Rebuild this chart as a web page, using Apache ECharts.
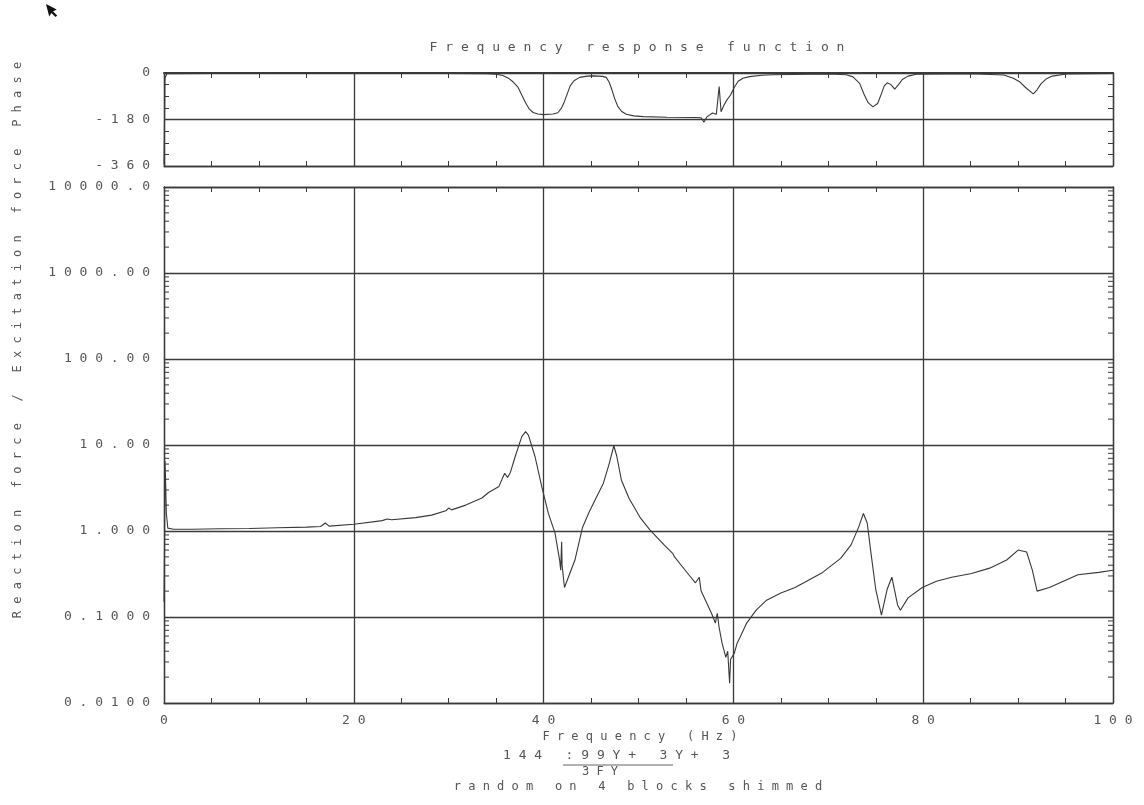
<!DOCTYPE html>
<html>
<head>
<meta charset="utf-8">
<title>Frequency response function</title>
<script src="https://cdn.jsdelivr.net/npm/echarts@6/dist/echarts.min.js"></script>
<style>
  html, body { margin: 0; padding: 0; background: #fff; }
  #frf { width: 1144px; height: 805px; }
</style>
</head>
<body>
<div id="frf"></div>
<script>
// phase curve (Hz, degrees)
const phaseFreq = [0, 0.05, 0.1, 0.3, 5, 10, 20, 30, 34, 35, 35.7, 36.3, 36.8, 37.3, 37.7, 38.1, 38.5, 38.9, 39.4, 40,
  41, 41.5, 41.9, 42.2, 42.5, 42.8, 43.2, 43.8, 44.6, 45.2, 46.2, 46.6, 46.9, 47.2, 47.5, 47.8, 48.2, 48.7, 49.5, 50.5,
  53, 56, 56.6, 56.9, 57.2, 57.8, 58.2, 58.5, 58.7, 59, 59.3, 59.7, 60.1, 60.5, 61, 61.7, 63, 64.2, 70, 71.9, 72.6,
  73.3, 73.8, 74.2, 74.7, 75.2, 75.6, 75.9, 76.2, 76.6, 77, 77.4, 77.8, 78.4, 79.3, 85, 88.5, 89.5, 90.2, 90.9, 91.6,
  92, 92.4, 93, 93.6, 95.1, 100];
const phaseDeg = [-355, -200, -20, -3, -2, -2, -1, -2, -3, -5, -10, -20, -35, -55, -85, -115, -140, -153, -159, -161,
  -159, -154, -135, -110, -80, -50, -30, -17, -12, -11, -13, -17, -35, -65, -100, -128, -148, -160, -166, -169,
  -171, -172, -173, -190, -170, -155, -160, -52, -150, -125, -105, -85, -55, -32, -20, -14, -9, -7, -4, -7, -15,
  -40, -85, -115, -131, -118, -80, -50, -38, -45, -62, -45, -25, -12, -5, -3, -8, -20, -35, -60, -81,
  -65, -42, -22, -12, -4, -2];

// magnitude curve (Hz, ratio)
const magFreq = [0, 0.05, 0.1, 0.15, 0.25, 0.4, 1, 3, 6, 9, 12, 15, 16.5, 17, 17.4, 20, 23, 23.5, 24, 26.5, 28.2, 29.7,
  30, 30.3, 31.8, 33.5, 34.2, 35.3, 35.7, 35.9, 36.2, 36.5, 37, 37.7, 38.1, 38.4, 39.1, 39.8, 40.5, 41.2, 41.7, 41.8,
  41.9, 41.95, 42.2, 43.3, 44.1, 44.8, 46.3, 46.9, 47.4, 47.7, 48.2, 49, 50.2, 51.2, 52.7, 53.6, 53.8, 54.5, 55.3,
  56, 56.4, 56.6, 56.8, 57.7, 58.1, 58.3, 58.5, 58.8, 59.2, 59.4, 59.6, 59.7, 60.1, 60.4, 60.7, 61.4, 62.4, 63.5, 65,
  66.5, 69.4, 71.3, 72.4, 73.2, 73.7, 74.1, 74.5, 75, 75.6, 76.2, 76.7, 77.3, 77.6, 78.4, 79.9, 81.4, 83, 85.1, 87,
  88.8, 90, 90.9, 91.5, 92, 93.3, 96.3, 98.5, 100];
const magValue = [0.15, 0.5, 6.5, 4.5, 1.6, 1.08, 1.05, 1.05, 1.06, 1.07, 1.09, 1.11, 1.13, 1.24, 1.14, 1.2, 1.32, 1.38,
  1.35, 1.43, 1.53, 1.72, 1.85, 1.76, 2.0, 2.42, 2.8, 3.3, 4.2, 4.7, 4.2, 4.8, 7.3, 12.5, 14.3, 13, 7.3, 3.3, 1.6, 0.95,
  0.45, 0.35, 0.75, 0.4, 0.22, 0.46, 1.1, 1.66, 3.6, 6, 9.8, 7.5, 3.9, 2.4, 1.42, 1.03, 0.69, 0.55, 0.5, 0.4, 0.31,
  0.25, 0.29, 0.2, 0.18, 0.11, 0.085, 0.11, 0.075, 0.05, 0.034, 0.04, 0.017, 0.032, 0.038, 0.05, 0.058, 0.085, 0.12,
  0.157, 0.19, 0.22, 0.33, 0.48, 0.69, 1.11, 1.6, 1.24, 0.55, 0.21, 0.105, 0.21, 0.29, 0.138, 0.12, 0.167, 0.22, 0.26,
  0.29, 0.32, 0.37, 0.46, 0.6, 0.57, 0.35, 0.2, 0.22, 0.31, 0.33, 0.35];

// tick labels
const freqLabels = ['0', '20', '40', '60', '80', '100'];
const phaseLabels = ['-360', '-180', '0'];
const magLabels = ['0.0100', '0.1000', '1.000', '10.00', '100.00', '1000.00', '10000.0'];
const minorMults = [2, 3, 4, 5, 6, 7, 8, 9];
const decades = [0.01, 0.1, 1, 10, 100, 1000];

const titleText = 'Frequency response function';
const yNameText = 'Reaction force / Excitation force Phase';
const xNameText = 'Frequency (Hz)';
const noteLine1 = '144 :99Y+ 3Y+ 3';
const noteLine2 = '3FY';
const noteLine3 = 'random on 4 blocks shimmed';

// the plotter draws text with a blank between letters
function spaced(s) { return s.split('').join(' '); }

const ink = '#3a3a3a';
const txt = '#555';
const mono = 'DejaVu Sans Mono';

let minorTicks = [];
decades.forEach(d => minorMults.forEach(m => minorTicks.push([0, d * m])));

let chart = echarts.init(document.getElementById('frf'));

function edgeX(grid, pos, labels) {
  return {
    type: 'value', gridIndex: grid, position: pos, min: 0, max: 100, interval: 20,
    axisLine: { show: true, onZero: false, lineStyle: { color: ink, width: pos === 'top' && grid === 0 ? 2 : 1.3 } },
    axisTick: { show: true, inside: true, length: 6, lineStyle: { color: ink } },
    minorTick: { show: true, splitNumber: 4, length: 5, lineStyle: { color: ink } },
    splitLine: { show: pos === 'bottom', lineStyle: { color: ink, width: 1.3 } },
    axisLabel: labels ? {
      show: true, margin: 11, color: txt, fontFamily: mono, fontSize: 13,
      formatter: v => spaced(freqLabels[Math.round(v / 20)])
    } : { show: false }
  };
}

let option = {
  backgroundColor: '#fff',
  animation: false,
  grid: [
    { left: 164, top: 73, width: 949, height: 93 },
    { left: 164, top: 187, width: 949, height: 516 }
  ],
  xAxis: [edgeX(0, 'bottom', false), edgeX(0, 'top', false), edgeX(1, 'bottom', true), edgeX(1, 'top', false)],
  yAxis: [
    {
      type: 'value', gridIndex: 0, position: 'left', min: -360, max: 0, interval: 180,
      axisLine: { show: true, onZero: false, lineStyle: { color: ink, width: 1.3 } },
      axisTick: { show: true, inside: true, length: 6, lineStyle: { color: ink } },
      minorTick: { show: true, splitNumber: 4, length: 5, lineStyle: { color: ink } },
      splitLine: { show: true, lineStyle: { color: ink, width: 1.3 } },
      axisLabel: {
        margin: 14, color: txt, fontFamily: mono, fontSize: 13,
        formatter: v => spaced(phaseLabels[Math.round((v + 360) / 180)])
      }
    },
    {
      type: 'value', gridIndex: 0, position: 'right', min: -360, max: 0, interval: 180,
      axisLine: { show: true, onZero: false, lineStyle: { color: ink, width: 1.3 } },
      axisTick: { show: true, inside: true, length: 6, lineStyle: { color: ink } },
      minorTick: { show: true, splitNumber: 4, length: 5, lineStyle: { color: ink } },
      splitLine: { show: false },
      axisLabel: { show: false }
    },
    {
      type: 'log', logBase: 10, gridIndex: 1, position: 'left', min: 0.01, max: 10000,
      axisLine: { show: true, onZero: false, lineStyle: { color: ink, width: 1.3 } },
      axisTick: { show: true, inside: true, length: 8, lineStyle: { color: ink } },
      splitLine: { show: true, lineStyle: { color: ink, width: 1.3 } },
      axisLabel: {
        margin: 14, color: txt, fontFamily: mono, fontSize: 13,
        formatter: v => spaced(magLabels[Math.round(Math.log10(v)) + 2])
      }
    },
    {
      type: 'log', logBase: 10, gridIndex: 1, position: 'right', min: 0.01, max: 10000,
      axisLine: { show: true, onZero: false, lineStyle: { color: ink, width: 1.3 } },
      axisTick: { show: true, inside: true, length: 8, lineStyle: { color: ink } },
      splitLine: { show: false },
      axisLabel: { show: false }
    }
  ],
  series: [
    {
      type: 'line', xAxisIndex: 0, yAxisIndex: 0, symbol: 'none', clip: true,
      lineStyle: { color: '#383838', width: 1.1 },
      data: phaseFreq.map((f, i) => [f, phaseDeg[i]])
    },
    {
      type: 'line', xAxisIndex: 2, yAxisIndex: 2, symbol: 'none', clip: true,
      lineStyle: { color: '#383838', width: 1.1 },
      data: magFreq.map((f, i) => [f, magValue[i]])
    },
    {
      // log-spaced minor ticks on both edges of the magnitude frame
      type: 'custom', xAxisIndex: 2, yAxisIndex: 2, silent: true, clip: false,
      data: minorTicks,
      renderItem: function (params, api) {
        let l = api.coord([0, api.value(1)]);
        let r = api.coord([100, api.value(1)]);
        let st = { stroke: ink, lineWidth: 1 };
        return {
          type: 'group',
          children: [
            { type: 'line', shape: { x1: l[0], y1: l[1], x2: l[0] + 5, y2: l[1] }, style: st },
            { type: 'line', shape: { x1: r[0], y1: r[1], x2: r[0] - 5, y2: r[1] }, style: st }
          ]
        };
      }
    }
  ],
  graphic: [
    {
      type: 'text', x: 637, y: 41,
      style: { text: spaced(titleText), fill: txt, font: '13px "' + mono + '"', align: 'center' }
    },
    {
      type: 'text', x: 12, y: 340, rotation: Math.PI / 2,
      style: { text: spaced(yNameText), fill: txt, font: '12px "' + mono + '"', align: 'center', verticalAlign: 'top' }
    },
    {
      type: 'text', x: 640, y: 731,
      style: { text: spaced(xNameText), fill: txt, font: '12px "' + mono + '"', align: 'center' }
    },
    {
      type: 'text', x: 503, y: 749,
      style: { text: spaced(noteLine1), fill: txt, font: '13px "' + mono + '"', align: 'left' }
    },
    {
      type: 'line', shape: { x1: 563, y1: 765, x2: 673, y2: 765 },
      style: { stroke: '#666', lineWidth: 1 }
    },
    {
      type: 'text', x: 600, y: 766,
      style: { text: spaced(noteLine2), fill: txt, font: '12px "' + mono + '"', align: 'center' }
    },
    {
      type: 'text', x: 638, y: 781,
      style: { text: spaced(noteLine3), fill: txt, font: '12px "' + mono + '"', align: 'center' }
    },
    {
      // mouse pointer caught in the screenshot
      type: 'polygon', x: 46, y: 4, rotation: 0.25,
      shape: { points: [[0, 0], [0, 13], [3, 10], [6, 15], [8, 14], [5, 9], [9, 8]] },
      style: { fill: '#111' }
    }
  ]
};

chart.setOption(option);
window.addEventListener('resize', function () {
  chart.resize();
});
</script>
</body>
</html>
